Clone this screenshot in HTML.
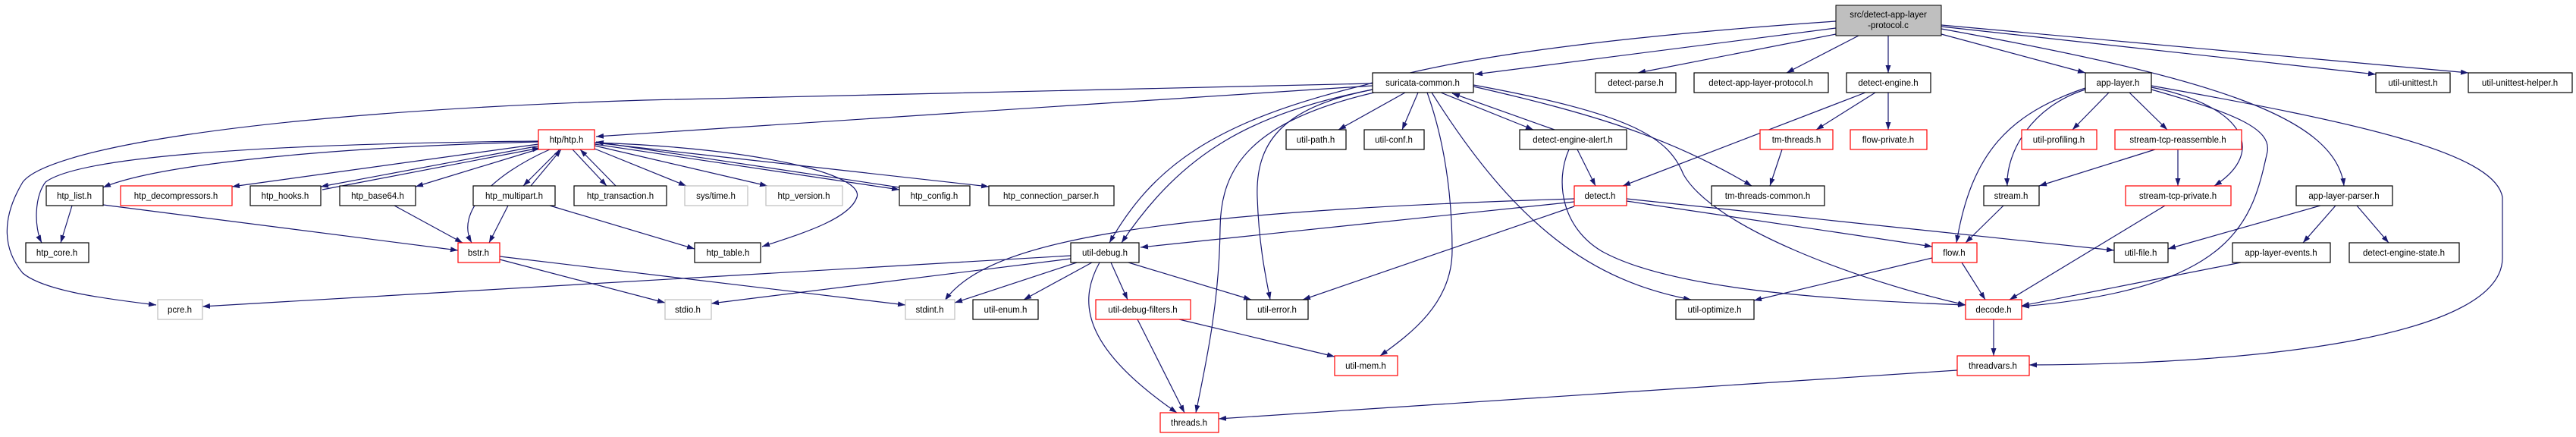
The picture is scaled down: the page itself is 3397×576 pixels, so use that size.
<!DOCTYPE html>
<html><head><meta charset="utf-8"><style>
html,body{margin:0;padding:0;background:#fff;}
svg{display:block;}
text{font-family:"Liberation Sans",sans-serif;font-size:11.5px;fill:#000;text-anchor:middle;}
.e{fill:none;stroke:#191970;stroke-width:1.2;marker-end:url(#a);}
.n{fill:#fff;stroke:#000;stroke-width:1.2;}
.r{fill:#fff;stroke:#ff0000;stroke-width:1.2;}
.g{fill:#fff;stroke:#bfbfbf;stroke-width:1.2;}
</style></head><body>
<svg width="3397" height="576" viewBox="0 0 3397 576" xmlns="http://www.w3.org/2000/svg">
<defs><marker id="a" markerWidth="10" markerHeight="8" refX="10" refY="3.5" orient="auto" markerUnits="userSpaceOnUse"><path d="M0,0 L10,3.5 L0,7 z" fill="#191970"/></marker></defs>
<g>
<path class="e" d="M2421,37 L1945,98"/>
<path class="e" d="M2421,45 L2160,96"/>
<path class="e" d="M2451,47 L2356,96"/>
<path class="e" d="M2490,47 L2490,96"/>
<path class="e" d="M2560,45 L2750,96"/>
<path class="e" d="M2560,35 L3133,98"/>
<path class="e" d="M2560,33 L3255,96"/>
<path class="e" d="M2560,38 C2900,100 3080,150 3091,245"/>
<path class="e" d="M2421,28 C2100,50 1900,80 1800,112 C1600,160 1520,220 1463,320"/>
<path class="e" d="M1810,110 L850,132 C300,150 60,200 30,240 C0,290 5,330 30,360 C60,385 150,395 206,402"/>
<path class="e" d="M1810,113 L786,180"/>
<path class="e" d="M1810,118 C1650,150 1560,200 1479,320"/>
<path class="e" d="M1853,122 L1765,171"/>
<path class="e" d="M1870,122 L1849,171"/>
<path class="e" d="M1900,122 L2022,171"/>
<path class="e" d="M2050,171 L1915,123"/>
<path class="e" d="M1882,122 C1910,200 1915,280 1915,330 C1915,400 1860,440 1820,469"/>
<path class="e" d="M1888,122 C2000,300 2100,370 2230,395"/>
<path class="e" d="M1943,114 C2100,150 2200,180 2310,245"/>
<path class="e" d="M1943,112 C2150,150 2200,180 2220,230 C2260,300 2450,370 2592,402"/>
<path class="e" d="M1810,118 C1700,140 1655,180 1658,260 C1660,320 1668,360 1675,395"/>
<path class="e" d="M1812,122 C1650,160 1610,220 1609,300 C1608,400 1590,480 1577,544"/>
<path class="e" d="M784,188 C1000,195 1140,230 1130,260 C1120,290 1050,310 1005,325"/>
<path class="e" d="M710,187 C400,195 200,220 136,247"/>
<path class="e" d="M710,186 C300,190 100,210 60,240 C45,260 45,300 55,320"/>
<path class="e" d="M710,190 L306,246"/>
<path class="e" d="M712,192 L423,246"/>
<path class="e" d="M425,250 L712,195"/>
<path class="e" d="M712,196 L548,246"/>
<path class="e" d="M725,197 C650,230 600,280 622,320"/>
<path class="e" d="M738,197 L690,245"/>
<path class="e" d="M700,245 L740,197"/>
<path class="e" d="M755,197 L800,245"/>
<path class="e" d="M812,245 L765,197"/>
<path class="e" d="M784,196 L905,245"/>
<path class="e" d="M784,192 L1012,245"/>
<path class="e" d="M784,190 L1186,250"/>
<path class="e" d="M1186,247 L786,187"/>
<path class="e" d="M784,188 L1304,246"/>
<path class="e" d="M95,271 L80,320"/>
<path class="e" d="M136,270 L604,330"/>
<path class="e" d="M520,271 L610,320"/>
<path class="e" d="M670,271 L645,320"/>
<path class="e" d="M725,271 L916,328"/>
<path class="e" d="M659,338 L1194,402"/>
<path class="e" d="M659,342 L877,399"/>
<path class="e" d="M1412,337 L267,404"/>
<path class="e" d="M1412,341 L938,400"/>
<path class="e" d="M1420,346 L1259,399"/>
<path class="e" d="M1440,346 L1350,395"/>
<path class="e" d="M1465,346 L1487,395"/>
<path class="e" d="M1488,346 L1650,395"/>
<path class="e" d="M1450,346 C1420,400 1430,460 1552,544"/>
<path class="e" d="M1500,421 L1562,544"/>
<path class="e" d="M1555,421 L1760,470"/>
<path class="e" d="M2460,122 L2140,245"/>
<path class="e" d="M2473,122 L2395,171"/>
<path class="e" d="M2490,122 L2490,171"/>
<path class="e" d="M2350,197 L2334,245"/>
<path class="e" d="M2080,197 L2104,245"/>
<path class="e" d="M2069,197 C2050,240 2060,300 2112,331 C2200,380 2400,395 2592,402"/>
<path class="e" d="M2076,262 C1500,280 1300,320 1246,396"/>
<path class="e" d="M2076,266 L1504,326"/>
<path class="e" d="M2076,272 L1718,395"/>
<path class="e" d="M2145,265 L2548,325"/>
<path class="e" d="M2145,262 L2788,330"/>
<path class="e" d="M2587,346 L2618,395"/>
<path class="e" d="M2548,340 L2313,396"/>
<path class="e" d="M2781,122 L2733,171"/>
<path class="e" d="M2808,122 L2858,171"/>
<path class="e" d="M2750,118 C2680,140 2645,200 2647,245"/>
<path class="e" d="M2750,116 C2650,150 2600,200 2580,320"/>
<path class="e" d="M2837,115 C2960,140 2990,200 2920,245"/>
<path class="e" d="M2837,118 C2950,150 2995,170 2990,200 C2970,290 2950,380 2666,404"/>
<path class="e" d="M2837,113 C3100,160 3290,200 3300,260 L3300,340 C3300,440 3000,480 2676,481"/>
<path class="e" d="M2842,197 L2689,245"/>
<path class="e" d="M2872,197 L2872,245"/>
<path class="e" d="M2642,271 L2592,320"/>
<path class="e" d="M2855,271 L2650,395"/>
<path class="e" d="M3060,271 L2859,328"/>
<path class="e" d="M3080,271 L3037,320"/>
<path class="e" d="M3108,271 L3150,320"/>
<path class="e" d="M2955,346 L2666,403"/>
<path class="e" d="M2629,421 L2629,469"/>
<path class="e" d="M2581,488 L1607,552"/>
</g>
<rect x="2421" y="7" width="139" height="40" fill="#bfbfbf" stroke="#000"/>
<text x="2490" y="23">src/detect-app-layer</text><text x="2490" y="37">-protocol.c</text>

<rect class="n" x="1810" y="96" width="133" height="26"/><text x="1876" y="113">suricata-common.h</text>
<rect class="n" x="2104" y="96" width="106" height="26"/><text x="2157" y="113">detect-parse.h</text>
<rect class="n" x="2234" y="96" width="177" height="26"/><text x="2322" y="113">detect-app-layer-protocol.h</text>
<rect class="n" x="2435" y="96" width="111" height="26"/><text x="2490" y="113">detect-engine.h</text>
<rect class="n" x="2750" y="96" width="87" height="26"/><text x="2793" y="113">app-layer.h</text>
<rect class="n" x="3133" y="96" width="98" height="26"/><text x="3182" y="113">util-unittest.h</text>
<rect class="n" x="3255" y="96" width="137" height="26"/><text x="3323" y="113">util-unittest-helper.h</text>

<rect class="r" x="710" y="171" width="74" height="26"/><text x="747" y="188">htp/htp.h</text>
<rect class="n" x="1696" y="171" width="79" height="26"/><text x="1735" y="188">util-path.h</text>
<rect class="n" x="1799" y="171" width="79" height="26"/><text x="1838" y="188">util-conf.h</text>
<rect class="n" x="2004" y="171" width="141" height="26"/><text x="2074" y="188">detect-engine-alert.h</text>
<rect class="r" x="2321" y="171" width="96" height="26"/><text x="2369" y="188">tm-threads.h</text>
<rect class="r" x="2440" y="171" width="101" height="26"/><text x="2490" y="188">flow-private.h</text>
<rect class="r" x="2666" y="171" width="99" height="26"/><text x="2715" y="188">util-profiling.h</text>
<rect class="r" x="2789" y="171" width="167" height="26"/><text x="2872" y="188">stream-tcp-reassemble.h</text>

<rect class="n" x="61" y="245" width="75" height="26"/><text x="98" y="262">htp_list.h</text>
<rect class="r" x="159" y="245" width="147" height="26"/><text x="232" y="262">htp_decompressors.h</text>
<rect class="n" x="330" y="245" width="93" height="26"/><text x="376" y="262">htp_hooks.h</text>
<rect class="n" x="448" y="245" width="100" height="26"/><text x="498" y="262">htp_base64.h</text>
<rect class="n" x="624" y="245" width="108" height="26"/><text x="678" y="262">htp_multipart.h</text>
<rect class="n" x="757" y="245" width="122" height="26"/><text x="818" y="262">htp_transaction.h</text>
<rect class="g" x="903" y="245" width="83" height="26"/><text x="944" y="262">sys/time.h</text>
<rect class="g" x="1010" y="245" width="101" height="26"/><text x="1060" y="262">htp_version.h</text>
<rect class="n" x="1186" y="245" width="93" height="26"/><text x="1232" y="262">htp_config.h</text>
<rect class="n" x="1304" y="245" width="165" height="26"/><text x="1386" y="262">htp_connection_parser.h</text>
<rect class="r" x="2076" y="245" width="69" height="26"/><text x="2110" y="262">detect.h</text>
<rect class="n" x="2257" y="245" width="149" height="26"/><text x="2331" y="262">tm-threads-common.h</text>
<rect class="n" x="2616" y="245" width="73" height="26"/><text x="2652" y="262">stream.h</text>
<rect class="r" x="2803" y="245" width="139" height="26"/><text x="2872" y="262">stream-tcp-private.h</text>
<rect class="n" x="3028" y="245" width="127" height="26"/><text x="3091" y="262">app-layer-parser.h</text>

<rect class="n" x="34" y="320" width="83" height="26"/><text x="75" y="337">htp_core.h</text>
<rect class="r" x="604" y="320" width="55" height="26"/><text x="631" y="337">bstr.h</text>
<rect class="n" x="916" y="320" width="87" height="26"/><text x="960" y="337">htp_table.h</text>
<rect class="n" x="1412" y="320" width="90" height="26"/><text x="1457" y="337">util-debug.h</text>
<rect class="r" x="2548" y="320" width="59" height="26"/><text x="2577" y="337">flow.h</text>
<rect class="n" x="2788" y="320" width="71" height="26"/><text x="2823" y="337">util-file.h</text>
<rect class="n" x="2944" y="320" width="129" height="26"/><text x="3008" y="337">app-layer-events.h</text>
<rect class="n" x="3098" y="320" width="145" height="26"/><text x="3170" y="337">detect-engine-state.h</text>

<rect class="g" x="208" y="395" width="59" height="26"/><text x="237" y="412">pcre.h</text>
<rect class="g" x="877" y="395" width="61" height="26"/><text x="907" y="412">stdio.h</text>
<rect class="g" x="1194" y="395" width="65" height="26"/><text x="1226" y="412">stdint.h</text>
<rect class="n" x="1283" y="395" width="86" height="26"/><text x="1326" y="412">util-enum.h</text>
<rect class="r" x="1445" y="395" width="125" height="26"/><text x="1507" y="412">util-debug-filters.h</text>
<rect class="n" x="1644" y="395" width="81" height="26"/><text x="1684" y="412">util-error.h</text>
<rect class="n" x="2210" y="395" width="103" height="26"/><text x="2261" y="412">util-optimize.h</text>
<rect class="r" x="2592" y="395" width="74" height="26"/><text x="2629" y="412">decode.h</text>

<rect class="r" x="1760" y="469" width="83" height="26"/><text x="1801" y="486">util-mem.h</text>
<rect class="r" x="2581" y="469" width="95" height="26"/><text x="2628" y="486">threadvars.h</text>

<rect class="r" x="1530" y="544" width="77" height="26"/><text x="1568" y="561">threads.h</text>
</svg>
</body></html>
